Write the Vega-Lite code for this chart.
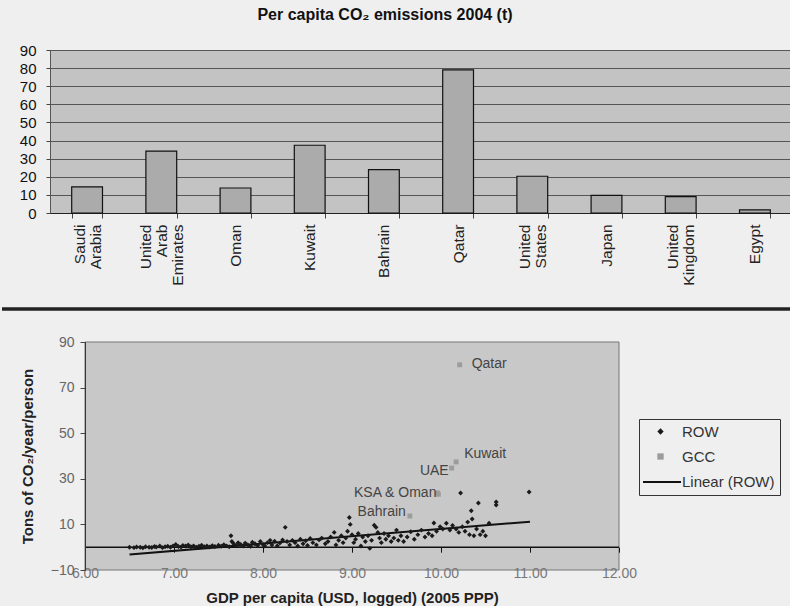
{
  "$schema": "https://vega.github.io/schema/vega-lite/v6.json",
  "background": "#efefef",
  "padding": {"left": 0, "top": 6, "right": 0, "bottom": 0},
  "spacing": 0,
  "resolve": {"scale": {"color": "independent", "shape": "independent", "stroke": "independent"}},
  "config": {"font": "Liberation Sans", "view": {"stroke": null}},
  "datasets": {
    "bars": [
      {"country": "Saudi|Arabia", "value": 14.4},
      {"country": "United|Arab|Emirates", "value": 34.2},
      {"country": "Oman", "value": 13.8},
      {"country": "Kuwait", "value": 37.4},
      {"country": "Bahrain", "value": 24},
      {"country": "Qatar", "value": 79},
      {"country": "United|States", "value": 20.3},
      {"country": "Japan", "value": 9.7},
      {"country": "United|Kingdom", "value": 9},
      {"country": "Egypt", "value": 1.7}
    ],
    "trend": [
      {"gdp": 6.5, "co2": -3.2},
      {"gdp": 11.0, "co2": 11.2}
    ],
    "scatter": [
      {"gdp": 6.5, "co2": 0, "series": "ROW"},
      {"gdp": 6.55, "co2": -0.2, "series": "ROW"},
      {"gdp": 6.58, "co2": 0.1, "series": "ROW"},
      {"gdp": 6.62, "co2": 0, "series": "ROW"},
      {"gdp": 6.65, "co2": -0.3, "series": "ROW"},
      {"gdp": 6.68, "co2": 0.2, "series": "ROW"},
      {"gdp": 6.72, "co2": 0, "series": "ROW"},
      {"gdp": 6.75, "co2": -0.1, "series": "ROW"},
      {"gdp": 6.78, "co2": 0.3, "series": "ROW"},
      {"gdp": 6.8, "co2": 0.1, "series": "ROW"},
      {"gdp": 6.84, "co2": 0.5, "series": "ROW"},
      {"gdp": 6.87, "co2": -0.2, "series": "ROW"},
      {"gdp": 6.9, "co2": 0.2, "series": "ROW"},
      {"gdp": 6.93, "co2": 0.4, "series": "ROW"},
      {"gdp": 6.96, "co2": 0, "series": "ROW"},
      {"gdp": 6.99, "co2": 0.6, "series": "ROW"},
      {"gdp": 7.02, "co2": 1.2, "series": "ROW"},
      {"gdp": 7.05, "co2": 0.3, "series": "ROW"},
      {"gdp": 7.08, "co2": 0.1, "series": "ROW"},
      {"gdp": 7.1, "co2": 0.8, "series": "ROW"},
      {"gdp": 7.13, "co2": 0.5, "series": "ROW"},
      {"gdp": 7.16, "co2": 1, "series": "ROW"},
      {"gdp": 7.19, "co2": 0.2, "series": "ROW"},
      {"gdp": 7.22, "co2": 0.6, "series": "ROW"},
      {"gdp": 7.25, "co2": 0, "series": "ROW"},
      {"gdp": 7.28, "co2": 0.4, "series": "ROW"},
      {"gdp": 7.31, "co2": 0.9, "series": "ROW"},
      {"gdp": 7.34, "co2": 0.2, "series": "ROW"},
      {"gdp": 7.37, "co2": 0.5, "series": "ROW"},
      {"gdp": 7.4, "co2": 0.1, "series": "ROW"},
      {"gdp": 7.43, "co2": 0.7, "series": "ROW"},
      {"gdp": 7.46, "co2": 0.3, "series": "ROW"},
      {"gdp": 7.5, "co2": 0.9, "series": "ROW"},
      {"gdp": 7.53, "co2": 0.4, "series": "ROW"},
      {"gdp": 7.56, "co2": 1.1, "series": "ROW"},
      {"gdp": 7.59, "co2": 0.6, "series": "ROW"},
      {"gdp": 7.62, "co2": 0.2, "series": "ROW"},
      {"gdp": 7.64, "co2": 5, "series": "ROW"},
      {"gdp": 7.65, "co2": 2.5, "series": "ROW"},
      {"gdp": 7.67, "co2": 1.5, "series": "ROW"},
      {"gdp": 7.7, "co2": 0.8, "series": "ROW"},
      {"gdp": 7.72, "co2": 2, "series": "ROW"},
      {"gdp": 7.75, "co2": 1.2, "series": "ROW"},
      {"gdp": 7.78, "co2": 0.5, "series": "ROW"},
      {"gdp": 7.8, "co2": 1.8, "series": "ROW"},
      {"gdp": 7.83, "co2": 1, "series": "ROW"},
      {"gdp": 7.86, "co2": 0.4, "series": "ROW"},
      {"gdp": 7.88, "co2": 2.2, "series": "ROW"},
      {"gdp": 7.91, "co2": 1.5, "series": "ROW"},
      {"gdp": 7.94, "co2": 0.8, "series": "ROW"},
      {"gdp": 7.97, "co2": 2.5, "series": "ROW"},
      {"gdp": 8.0, "co2": 1.2, "series": "ROW"},
      {"gdp": 8.02, "co2": 0.5, "series": "ROW"},
      {"gdp": 8.05, "co2": 2, "series": "ROW"},
      {"gdp": 8.08, "co2": 3, "series": "ROW"},
      {"gdp": 8.1, "co2": 1, "series": "ROW"},
      {"gdp": 8.13, "co2": 2.6, "series": "ROW"},
      {"gdp": 8.16, "co2": 0.6, "series": "ROW"},
      {"gdp": 8.19, "co2": 1.8, "series": "ROW"},
      {"gdp": 8.22, "co2": 3.2, "series": "ROW"},
      {"gdp": 8.25, "co2": 8.7, "series": "ROW"},
      {"gdp": 8.27, "co2": 2.5, "series": "ROW"},
      {"gdp": 8.3, "co2": 1, "series": "ROW"},
      {"gdp": 8.33, "co2": 3, "series": "ROW"},
      {"gdp": 8.36, "co2": 2, "series": "ROW"},
      {"gdp": 8.39, "co2": 0.5, "series": "ROW"},
      {"gdp": 8.42, "co2": 3.5, "series": "ROW"},
      {"gdp": 8.45, "co2": 1.5, "series": "ROW"},
      {"gdp": 8.48, "co2": 2.8, "series": "ROW"},
      {"gdp": 8.5, "co2": 0.8, "series": "ROW"},
      {"gdp": 8.53, "co2": 3.8, "series": "ROW"},
      {"gdp": 8.56, "co2": 2, "series": "ROW"},
      {"gdp": 8.6, "co2": 1, "series": "ROW"},
      {"gdp": 8.63, "co2": 3.2, "series": "ROW"},
      {"gdp": 8.66, "co2": 4, "series": "ROW"},
      {"gdp": 8.7, "co2": 1.5, "series": "ROW"},
      {"gdp": 8.73, "co2": 2.5, "series": "ROW"},
      {"gdp": 8.76, "co2": 4.5, "series": "ROW"},
      {"gdp": 8.8, "co2": 6.5, "series": "ROW"},
      {"gdp": 8.82, "co2": 1, "series": "ROW"},
      {"gdp": 8.85, "co2": 3, "series": "ROW"},
      {"gdp": 8.88, "co2": 5, "series": "ROW"},
      {"gdp": 8.9, "co2": 2, "series": "ROW"},
      {"gdp": 8.93, "co2": 4, "series": "ROW"},
      {"gdp": 8.95, "co2": 7, "series": "ROW"},
      {"gdp": 8.97, "co2": 13, "series": "ROW"},
      {"gdp": 8.98, "co2": 10, "series": "ROW"},
      {"gdp": 9.0, "co2": 5.5, "series": "ROW"},
      {"gdp": 9.02, "co2": 2, "series": "ROW"},
      {"gdp": 9.04, "co2": 3.5, "series": "ROW"},
      {"gdp": 9.07, "co2": 6, "series": "ROW"},
      {"gdp": 9.1, "co2": 0.5, "series": "ROW"},
      {"gdp": 9.12, "co2": 4.5, "series": "ROW"},
      {"gdp": 9.15, "co2": 2.5, "series": "ROW"},
      {"gdp": 9.18, "co2": 5, "series": "ROW"},
      {"gdp": 9.2, "co2": -0.5, "series": "ROW"},
      {"gdp": 9.22, "co2": 3, "series": "ROW"},
      {"gdp": 9.25, "co2": 9.6, "series": "ROW"},
      {"gdp": 9.27, "co2": 8.7, "series": "ROW"},
      {"gdp": 9.29, "co2": 6.5, "series": "ROW"},
      {"gdp": 9.31, "co2": 4, "series": "ROW"},
      {"gdp": 9.33, "co2": 2, "series": "ROW"},
      {"gdp": 9.36, "co2": 6, "series": "ROW"},
      {"gdp": 9.38, "co2": 3.5, "series": "ROW"},
      {"gdp": 9.41, "co2": 5, "series": "ROW"},
      {"gdp": 9.44, "co2": 2.5, "series": "ROW"},
      {"gdp": 9.47, "co2": 4, "series": "ROW"},
      {"gdp": 9.5, "co2": 7.5, "series": "ROW"},
      {"gdp": 9.52, "co2": 3, "series": "ROW"},
      {"gdp": 9.55, "co2": 5, "series": "ROW"},
      {"gdp": 9.58, "co2": 2.5, "series": "ROW"},
      {"gdp": 9.62, "co2": 4.5, "series": "ROW"},
      {"gdp": 9.66, "co2": 6.8, "series": "ROW"},
      {"gdp": 9.7, "co2": 3.5, "series": "ROW"},
      {"gdp": 9.74, "co2": 5.5, "series": "ROW"},
      {"gdp": 9.78, "co2": 7.5, "series": "ROW"},
      {"gdp": 9.82, "co2": 4.5, "series": "ROW"},
      {"gdp": 9.86, "co2": 6, "series": "ROW"},
      {"gdp": 9.9, "co2": 5, "series": "ROW"},
      {"gdp": 9.92, "co2": 10.6, "series": "ROW"},
      {"gdp": 9.95, "co2": 7, "series": "ROW"},
      {"gdp": 9.99, "co2": 9, "series": "ROW"},
      {"gdp": 10.02, "co2": 8, "series": "ROW"},
      {"gdp": 10.06, "co2": 10.5, "series": "ROW"},
      {"gdp": 10.1, "co2": 7.5, "series": "ROW"},
      {"gdp": 10.13, "co2": 9.5, "series": "ROW"},
      {"gdp": 10.17, "co2": 8, "series": "ROW"},
      {"gdp": 10.2, "co2": 6.5, "series": "ROW"},
      {"gdp": 10.22, "co2": 23.8, "series": "ROW"},
      {"gdp": 10.24, "co2": 9, "series": "ROW"},
      {"gdp": 10.27, "co2": 7, "series": "ROW"},
      {"gdp": 10.3, "co2": 11, "series": "ROW"},
      {"gdp": 10.32, "co2": 5.5, "series": "ROW"},
      {"gdp": 10.34, "co2": 16, "series": "ROW"},
      {"gdp": 10.35, "co2": 12.4, "series": "ROW"},
      {"gdp": 10.37, "co2": 5, "series": "ROW"},
      {"gdp": 10.4, "co2": 8, "series": "ROW"},
      {"gdp": 10.42, "co2": 19.4, "series": "ROW"},
      {"gdp": 10.44, "co2": 5.5, "series": "ROW"},
      {"gdp": 10.47, "co2": 7, "series": "ROW"},
      {"gdp": 10.5, "co2": 5, "series": "ROW"},
      {"gdp": 10.54, "co2": 10.5, "series": "ROW"},
      {"gdp": 10.62, "co2": 19.8, "series": "ROW"},
      {"gdp": 10.62, "co2": 18.5, "series": "ROW"},
      {"gdp": 10.99, "co2": 24.2, "series": "ROW"},
      {"gdp": 10.21, "co2": 80, "series": "GCC", "label": "Qatar"},
      {"gdp": 10.17, "co2": 37.4, "series": "GCC", "label": "Kuwait"},
      {"gdp": 10.12, "co2": 34.7, "series": "GCC", "label": "UAE"},
      {"gdp": 9.96, "co2": 23.8, "series": "GCC", "label": "KSA & Oman"},
      {"gdp": 9.97, "co2": 23.2, "series": "GCC"},
      {"gdp": 9.65, "co2": 13.7, "series": "GCC", "label": "Bahrain"}
    ]
  },
  "vconcat": [
    {
      "width": 742,
      "height": 163,
      "title": {"text": "Per capita CO₂ emissions 2004 (t)", "fontSize": 16, "fontWeight": "bold", "font": "Liberation Sans", "color": "#111", "anchor": "middle", "dx": -36, "offset": 20},
      "data": {"name": "bars"},
      "view": {"fill": "#c3c3c3", "stroke": "#555", "strokeWidth": 1},
      "mark": {"type": "bar", "fill": "#ababab", "stroke": "#111", "strokeWidth": 1.2},
      "encoding": {
        "x": {"field": "country", "type": "nominal", "sort": null,
          "scale": {"paddingInner": 0.585, "paddingOuter": 0.2925},
          "axis": {"title": null, "labelAngle": -90, "labelExpr": "split(datum.label, '|')", "labelFontSize": 15.5, "labelColor": "#222", "labelPadding": 6, "labelLineHeight": 16,
            "labelOffset": {"condition": [{"test": "length(split(datum.value, '|')) == 3", "value": -16}, {"test": "length(split(datum.value, '|')) == 2", "value": -8}], "value": 0},
            "tickBand": "extent", "tickSize": 5, "tickColor": "#444", "domainColor": "#222"}},
        "y": {"field": "value", "type": "quantitative", "scale": {"domain": [0, 90], "nice": false},
          "axis": {"title": null, "values": [0, 10, 20, 30, 40, 50, 60, 70, 80, 90], "labelFontSize": 15, "labelColor": "#111", "grid": true, "gridColor": "#555", "tickColor": "#444", "tickSize": 4, "labelPadding": 10, "domain": false}}
      }
    },
    {
      "width": 742,
      "height": 49,
      "data": {"values": [{"k": 1}]},
      "mark": {"type": "rule", "stroke": "#222", "strokeWidth": 3.5},
      "encoding": {
        "x": {"datum": -0.0647, "type": "quantitative", "scale": {"domain": [0, 1], "nice": false, "zero": false}, "axis": null},
        "x2": {"datum": 1},
        "y": {"datum": 0.531, "type": "quantitative", "scale": {"domain": [0, 1]}, "axis": null}
      }
    },
    {
      "width": 569,
      "height": 228,
      "layer": [
        {
          "data": {"values": [{"k": 1}]},
          "mark": {"type": "rect", "fill": "#c8c8c8", "stroke": "#777", "strokeWidth": 1},
          "encoding": {
            "x": {"datum": 6, "type": "quantitative", "scale": {"domain": [5.6067, 12], "nice": false, "zero": false},
              "axis": {"title": "GDP per capita (USD, logged) (2005 PPP)", "titleX": 302, "zindex": 1, "values": [6, 7, 8, 9, 10, 11, 12], "format": ".2f", "offset": -22.8, "grid": false, "domain": false, "labelFlush": false, "labelOverlap": false, "tickColor": "#111", "tickSize": 5, "labelPadding": 14, "labelFontSize": 14, "labelColor": "#777", "titleFontSize": 15, "titleFontWeight": "bold", "titleColor": "#222", "titlePadding": 10}},
            "x2": {"datum": 12},
            "y": {"datum": -10, "type": "quantitative", "scale": {"domain": [-10, 90], "nice": false},
              "axis": {"title": "Tons of CO₂/year/person", "zindex": 1, "offset": -35, "values": [-10, 0, 10, 20, 30, 40, 50, 60, 70, 80, 90], "labelOverlap": false, "grid": false, "domainColor": "#333", "tickColor": "#444", "tickSize": 5, "labelPadding": 6, "labelFontSize": 14, "labelColor": "#666", "titleFontSize": 15, "titleFontWeight": "bold", "titleColor": "#222", "titlePadding": 15}},
            "y2": {"datum": 90}
          }
        },
        {
          "data": {"values": [{"k": 1}]},
          "mark": {"type": "rule", "stroke": "#111", "strokeWidth": 1.5},
          "encoding": {
            "x": {"datum": 6, "type": "quantitative", "scale": {"domain": [5.6067, 12], "nice": false, "zero": false},
              "axis": {"title": "GDP per capita (USD, logged) (2005 PPP)", "titleX": 302, "zindex": 1, "values": [6, 7, 8, 9, 10, 11, 12], "format": ".2f", "offset": -22.8, "grid": false, "domain": false, "labelFlush": false, "labelOverlap": false, "tickColor": "#111", "tickSize": 5, "labelPadding": 14, "labelFontSize": 14, "labelColor": "#777", "titleFontSize": 15, "titleFontWeight": "bold", "titleColor": "#222", "titlePadding": 10}},
            "x2": {"datum": 12},
            "y": {"datum": 0, "type": "quantitative", "scale": {"domain": [-10, 90], "nice": false},
              "axis": {"title": "Tons of CO₂/year/person", "zindex": 1, "offset": -35, "values": [-10, 0, 10, 20, 30, 40, 50, 60, 70, 80, 90], "labelOverlap": false, "grid": false, "domainColor": "#333", "tickColor": "#444", "tickSize": 5, "labelPadding": 6, "labelFontSize": 14, "labelColor": "#666", "titleFontSize": 15, "titleFontWeight": "bold", "titleColor": "#222", "titlePadding": 15}}
          }
        },
        {
          "data": {"name": "trend"},
          "mark": {"type": "line", "strokeWidth": 2},
          "encoding": {
            "x": {"field": "gdp", "type": "quantitative", "scale": {"domain": [5.6067, 12], "nice": false, "zero": false},
              "axis": {"title": "GDP per capita (USD, logged) (2005 PPP)", "titleX": 302, "zindex": 1, "values": [6, 7, 8, 9, 10, 11, 12], "format": ".2f", "offset": -22.8, "grid": false, "domain": false, "labelFlush": false, "labelOverlap": false, "tickColor": "#111", "tickSize": 5, "labelPadding": 14, "labelFontSize": 14, "labelColor": "#777", "titleFontSize": 15, "titleFontWeight": "bold", "titleColor": "#222", "titlePadding": 10}},
            "y": {"field": "co2", "type": "quantitative", "scale": {"domain": [-10, 90], "nice": false},
              "axis": {"title": "Tons of CO₂/year/person", "zindex": 1, "offset": -35, "values": [-10, 0, 10, 20, 30, 40, 50, 60, 70, 80, 90], "labelOverlap": false, "grid": false, "domainColor": "#333", "tickColor": "#444", "tickSize": 5, "labelPadding": 6, "labelFontSize": 14, "labelColor": "#666", "titleFontSize": 15, "titleFontWeight": "bold", "titleColor": "#222", "titlePadding": 15}},
            "stroke": {"datum": "Linear (ROW)", "type": "nominal", "scale": {"range": ["#111111"]},
              "legend": {"title": null, "orient": "none", "legendX": 592, "legendY": 120, "padding": 0, "symbolType": "stroke", "symbolSize": 1444, "symbolStrokeWidth": 2, "symbolStrokeColor": "#111", "symbolOffset": 0, "labelExpr": "''", "labelFontSize": 15}}
          }
        },
        {
          "data": {"name": "scatter"},
          "mark": {"type": "point", "filled": true, "opacity": 1, "size": 24},
          "encoding": {
            "x": {"field": "gdp", "type": "quantitative", "scale": {"domain": [5.6067, 12], "nice": false, "zero": false},
              "axis": {"title": "GDP per capita (USD, logged) (2005 PPP)", "titleX": 302, "zindex": 1, "values": [6, 7, 8, 9, 10, 11, 12], "format": ".2f", "offset": -22.8, "grid": false, "domain": false, "labelFlush": false, "labelOverlap": false, "tickColor": "#111", "tickSize": 5, "labelPadding": 14, "labelFontSize": 14, "labelColor": "#777", "titleFontSize": 15, "titleFontWeight": "bold", "titleColor": "#222", "titlePadding": 10}},
            "y": {"field": "co2", "type": "quantitative", "scale": {"domain": [-10, 90], "nice": false},
              "axis": {"title": "Tons of CO₂/year/person", "zindex": 1, "offset": -35, "values": [-10, 0, 10, 20, 30, 40, 50, 60, 70, 80, 90], "labelOverlap": false, "grid": false, "domainColor": "#333", "tickColor": "#444", "tickSize": 5, "labelPadding": 6, "labelFontSize": 14, "labelColor": "#666", "titleFontSize": 15, "titleFontWeight": "bold", "titleColor": "#222", "titlePadding": 15}},
            "color": {"field": "series", "type": "nominal",
              "scale": {"domain": ["ROW", "GCC", "Linear (ROW)"], "range": ["#1a1a1a", "#9c9c9c", "#1a1a1a"]},
              "legend": {"title": null, "orient": "none", "legendX": 589, "legendY": 77, "strokeColor": "#333", "padding": 5, "labelFontSize": 15, "labelColor": "#333", "labelFont": "Liberation Sans", "rowPadding": 9, "symbolSize": 40, "symbolOffset": 9, "labelOffset": 14, "symbolStrokeWidth": 0}},
            "shape": {"field": "series", "type": "nominal",
              "scale": {"domain": ["ROW", "GCC", "Linear (ROW)"], "range": ["diamond", "square", "stroke"]},
              "legend": null}
          }
        },
        {
          "data": {"name": "scatter"},
          "transform": [{"filter": "datum.label == 'Qatar'"}],
          "mark": {"type": "text", "align": "left", "baseline": "middle", "dx": 12, "dy": -1, "fontSize": 14, "color": "#444"},
          "encoding": {"x": {"field": "gdp", "type": "quantitative"}, "y": {"field": "co2", "type": "quantitative"}, "text": {"field": "label"}}
        },
        {
          "data": {"name": "scatter"},
          "transform": [{"filter": "datum.label == 'Kuwait'"}],
          "mark": {"type": "text", "align": "left", "baseline": "middle", "dx": 8, "dy": -8, "fontSize": 14, "color": "#444"},
          "encoding": {"x": {"field": "gdp", "type": "quantitative"}, "y": {"field": "co2", "type": "quantitative"}, "text": {"field": "label"}}
        },
        {
          "data": {"name": "scatter"},
          "transform": [{"filter": "datum.label == 'UAE'"}],
          "mark": {"type": "text", "align": "right", "baseline": "middle", "dx": -3, "dy": 3, "fontSize": 14, "color": "#444"},
          "encoding": {"x": {"field": "gdp", "type": "quantitative"}, "y": {"field": "co2", "type": "quantitative"}, "text": {"field": "label"}}
        },
        {
          "data": {"name": "scatter"},
          "transform": [{"filter": "datum.label == 'KSA & Oman'"}],
          "mark": {"type": "text", "align": "right", "baseline": "middle", "dx": -1, "dy": 0, "fontSize": 14, "color": "#444"},
          "encoding": {"x": {"field": "gdp", "type": "quantitative"}, "y": {"field": "co2", "type": "quantitative"}, "text": {"field": "label"}}
        },
        {
          "data": {"name": "scatter"},
          "transform": [{"filter": "datum.label == 'Bahrain'"}],
          "mark": {"type": "text", "align": "right", "baseline": "middle", "dx": -4, "dy": -4, "fontSize": 14, "color": "#444"},
          "encoding": {"x": {"field": "gdp", "type": "quantitative"}, "y": {"field": "co2", "type": "quantitative"}, "text": {"field": "label"}}
        }
      ]
    }
  ]
}
